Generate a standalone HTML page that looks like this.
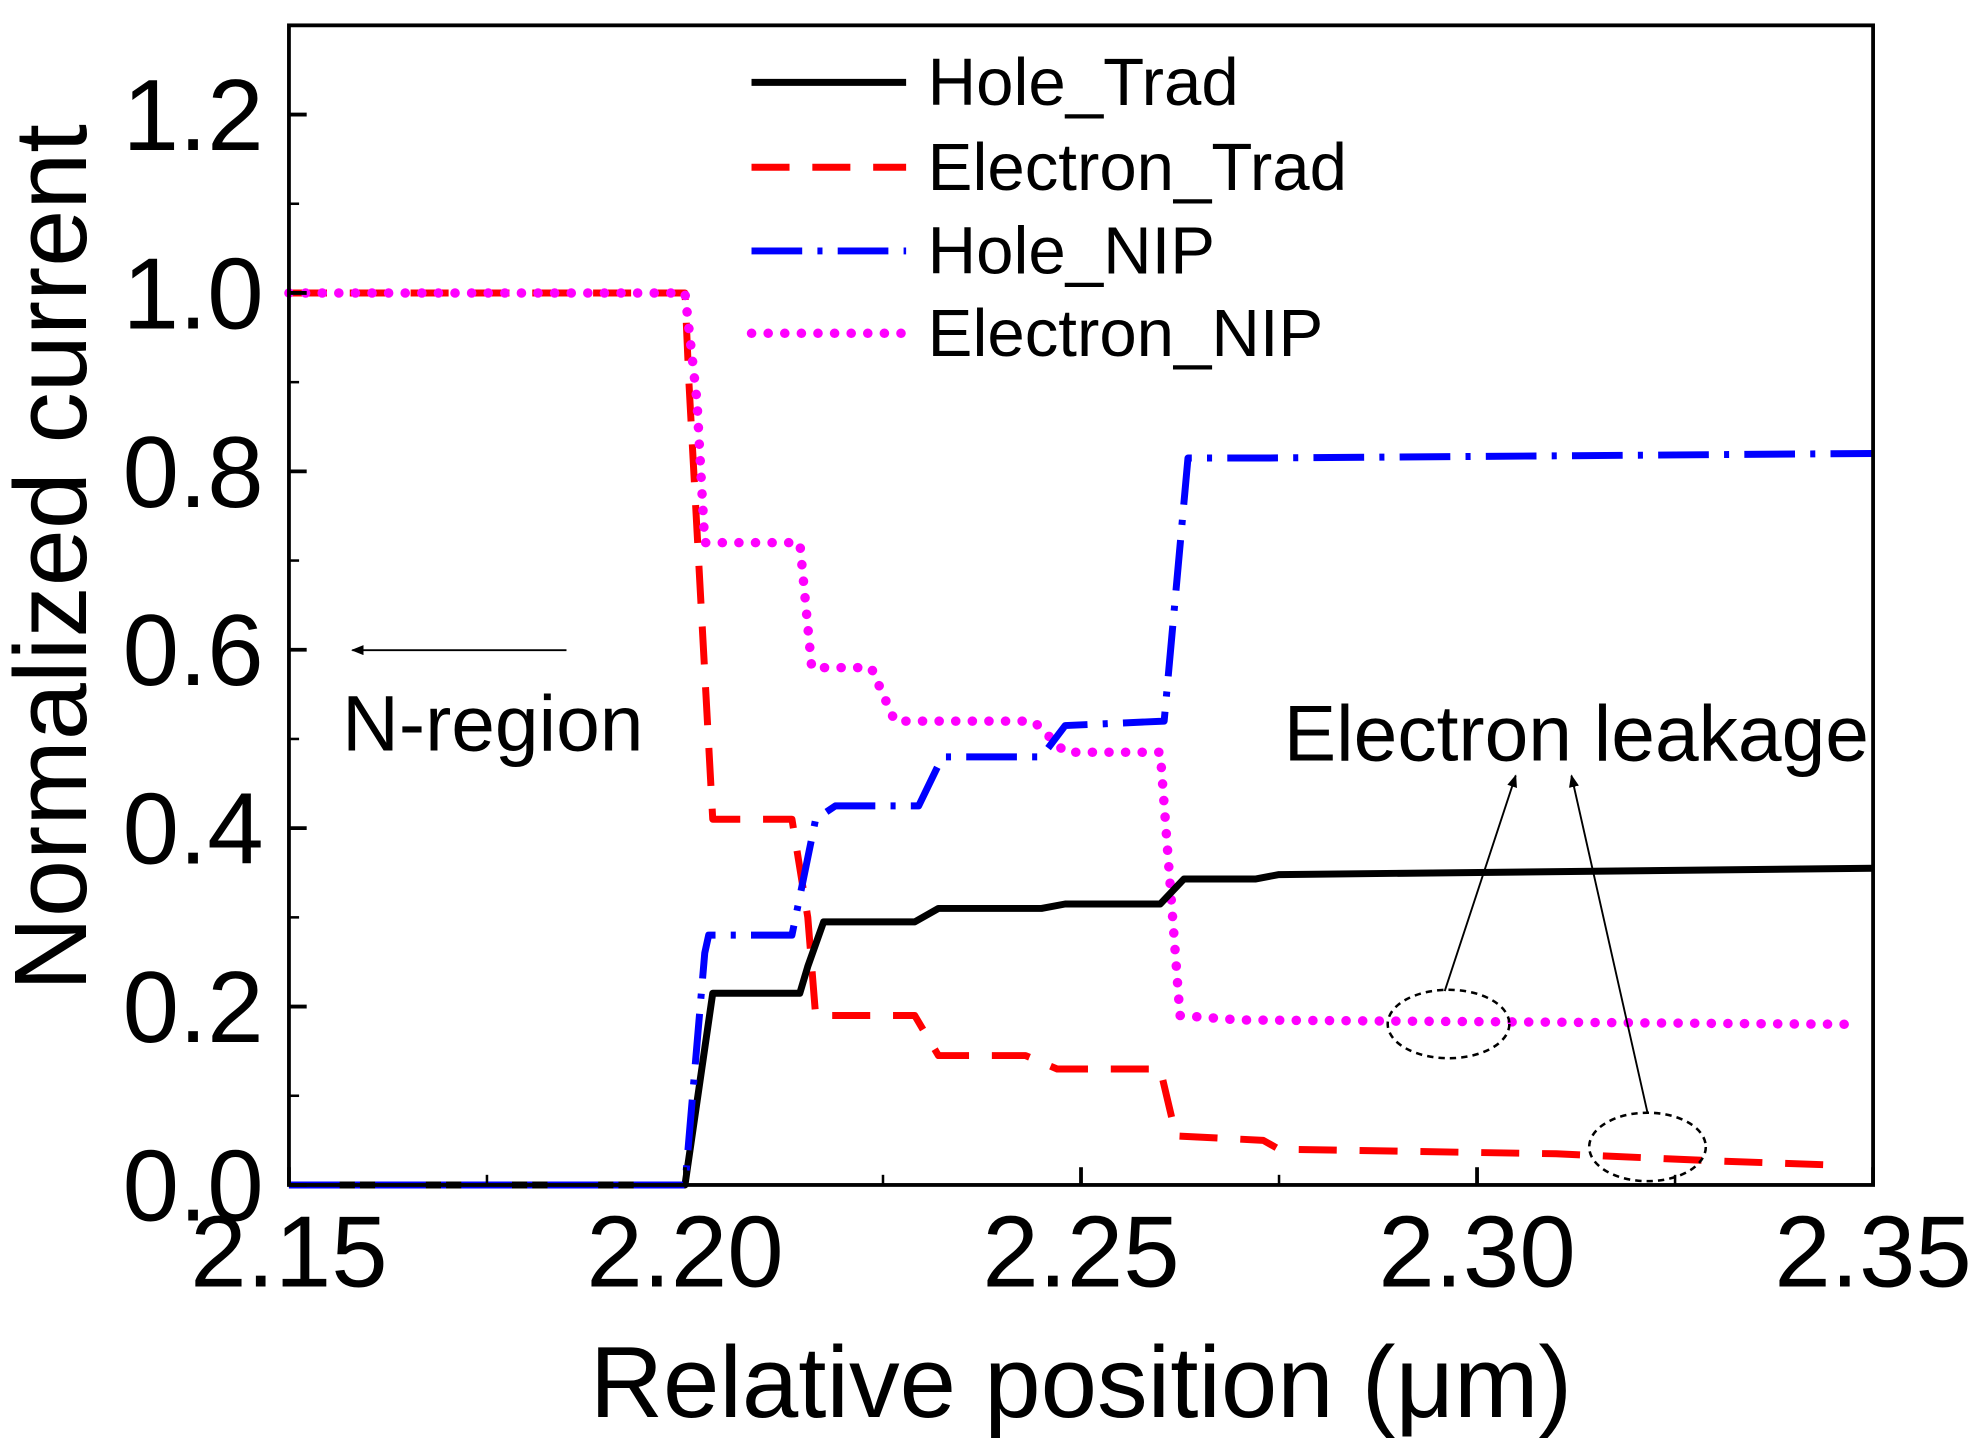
<!DOCTYPE html>
<html><head><meta charset="utf-8"><style>
html,body{margin:0;padding:0;background:#fff;}
svg{display:block;font-family:"Liberation Sans",Arial,sans-serif;}
</style></head><body>
<svg id="chart" width="1977" height="1453" viewBox="0 0 1560 1146.5" preserveAspectRatio="none" xmlns="http://www.w3.org/2000/svg">
<g id="marks"></g>
</svg>
<script>
const xTicks=[2.15,2.20,2.25,2.30,2.35];
const xTickLabels=["2.15","2.20","2.25","2.30","2.35"];
const yTicks=[0,0.2,0.4,0.6,0.8,1.0,1.2];
const yTickLabels=["0.0","0.2","0.4","0.6","0.8","1.0","1.2"];
const holeTradX=[2.15,2.2,2.2035,2.2145,2.2155,2.2175,2.229,2.232,2.245,2.248,2.26,2.263,2.272,2.275,2.35];
const holeTradY=[0,0,0.215,0.215,0.245,0.295,0.295,0.31,0.31,0.315,0.315,0.343,0.343,0.348,0.355];
const elecTradX=[2.15,2.2,2.2005,2.2035,2.2135,2.2155,2.2165,2.229,2.232,2.243,2.247,2.26,2.262,2.273,2.275,2.31,2.33,2.346];
const elecTradY=[1,1,0.9,0.41,0.41,0.3,0.19,0.19,0.145,0.145,0.13,0.13,0.055,0.05,0.04,0.035,0.027,0.022];
const holeNipX=[2.15,2.2,2.2025,2.203,2.2135,2.2165,2.219,2.2295,2.2325,2.245,2.248,2.2605,2.2635,2.273,2.35];
const holeNipY=[0,0,0.26,0.28,0.28,0.41,0.425,0.425,0.48,0.48,0.515,0.52,0.815,0.815,0.82];
const elecNipX=[2.15,2.2,2.2015,2.2025,2.2145,2.216,2.2235,2.2265,2.244,2.248,2.26,2.2625,2.27,2.348];
const elecNipY=[1,1,0.88,0.72,0.72,0.58,0.58,0.52,0.52,0.485,0.485,0.19,0.185,0.18];
const seriesNames=["Hole_Trad","Electron_Trad","Hole_NIP","Electron_NIP"];

const L=228,R=1478,T=20,B=935;
const X0=2.15,X1=2.35,Y0=0,Y1=1.3;
function sx(v){return L+(v-X0)/(X1-X0)*(R-L);}
function sy(v){return B-(v-Y0)/(Y1-Y0)*(B-T);}
const NS="http://www.w3.org/2000/svg";
const g=document.getElementById('marks');
function mk(tag,attrs,parent){const e=document.createElementNS(NS,tag);for(const k in attrs)e.setAttribute(k,attrs[k]);(parent||g).appendChild(e);return e;}

const styles=[
 {stroke:"#000",dash:"",cap:"butt",w:5.5},
 {stroke:"#ff0000",dash:"30 18",cap:"butt",w:5.5},
 {stroke:"#0000ff",dash:"40 12 4 12",cap:"butt",w:5.5},
 {stroke:"#ff00ff",dash:"0.1 13",cap:"round",w:7.5}
];
const xs=[holeTradX,elecTradX,holeNipX,elecNipX];
const ys=[holeTradY,elecTradY,holeNipY,elecNipY];
const order=[1,3,0,2];
order.forEach(i=>{
  const pts=xs[i].map((x,j)=>sx(x).toFixed(1)+","+sy(ys[i][j]).toFixed(1)).join(" ");
  const p=mk('polyline',{points:pts,fill:"none",stroke:styles[i].stroke,"stroke-width":styles[i].w,"stroke-dasharray":styles[i].dash,"stroke-linecap":styles[i].cap,"stroke-linejoin":"round"});
  
  
});

const fr=mk('rect',{x:L,y:T,width:R-L,height:B-T,fill:"none",stroke:"#000","stroke-width":3});



xTicks.forEach((v,i)=>{
  const x=sx(v);
  mk('line',{x1:x,y1:B,x2:x,y2:B-14,stroke:"#000","stroke-width":3});
  if(i<xTicks.length-1){const xm=sx(v+0.025);mk('line',{x1:xm,y1:B,x2:xm,y2:B-8,stroke:"#000","stroke-width":2});}
  const t=mk('text',{x:x,y:1015,"text-anchor":"middle","font-size":80});
  t.textContent=xTickLabels[i];
  
  
});
yTicks.forEach((v,i)=>{
  const y=sy(v);
  mk('line',{x1:L,y1:y,x2:L+14,y2:y,stroke:"#000","stroke-width":3});
  const ym=sy(v+0.1);
  if(v+0.1<Y1)mk('line',{x1:L,y1:ym,x2:L+8,y2:ym,stroke:"#000","stroke-width":2});
  const t=mk('text',{x:208,y:y+28,"text-anchor":"end","font-size":80});
  t.textContent=yTickLabels[i];
  
  
});
const xt=mk('text',{x:853,y:1118,"text-anchor":"middle","font-size":80});
xt.textContent="Relative position (μm)";


const yt=mk('text',{x:0,y:0,"text-anchor":"middle","font-size":81,transform:"translate(68,440) rotate(-90)"});
yt.textContent="Normalized current";



const legY=[65,132,198,263];
seriesNames.forEach((n,i)=>{
  const ln=mk('line',{x1:593,y1:legY[i],x2:715,y2:legY[i],stroke:styles[i].stroke,"stroke-width":styles[i].w,"stroke-dasharray":styles[i].dash,"stroke-linecap":styles[i].cap});
  
  
  const t=mk('text',{x:732,y:legY[i]+18,"font-size":53});
  t.textContent=n;
  
  
});

const defs=mk('defs',{});
const m=mk('marker',{id:"ah",markerWidth:10,markerHeight:8,refX:9,refY:4,orient:"auto",markerUnits:"userSpaceOnUse"},defs);
mk('path',{d:"M0,0 L10,4 L0,8 Z",fill:"#000"},m);
const a1=mk('line',{x1:447,y1:513,x2:278,y2:513,stroke:"#000","stroke-width":1.5,"marker-end":"url(#ah)"});


const nt=mk('text',{x:270,y:592,"font-size":62});
nt.textContent="N-region";


const et=mk('text',{x:1013,y:600,"font-size":62});
et.textContent="Electron leakage";


const a2=mk('line',{x1:1140,y1:782,x2:1196,y2:612,stroke:"#000","stroke-width":1.5,"marker-end":"url(#ah)"});


const a3=mk('line',{x1:1300,y1:878,x2:1240,y2:612,stroke:"#000","stroke-width":1.5,"marker-end":"url(#ah)"});


const e1=mk('ellipse',{cx:1143,cy:808,rx:48,ry:27,fill:"none",stroke:"#000","stroke-width":2,"stroke-dasharray":"5 4"});


const e2=mk('ellipse',{cx:1300,cy:905,rx:46,ry:27,fill:"none",stroke:"#000","stroke-width":2,"stroke-dasharray":"5 4"});


</script>
</body></html>
